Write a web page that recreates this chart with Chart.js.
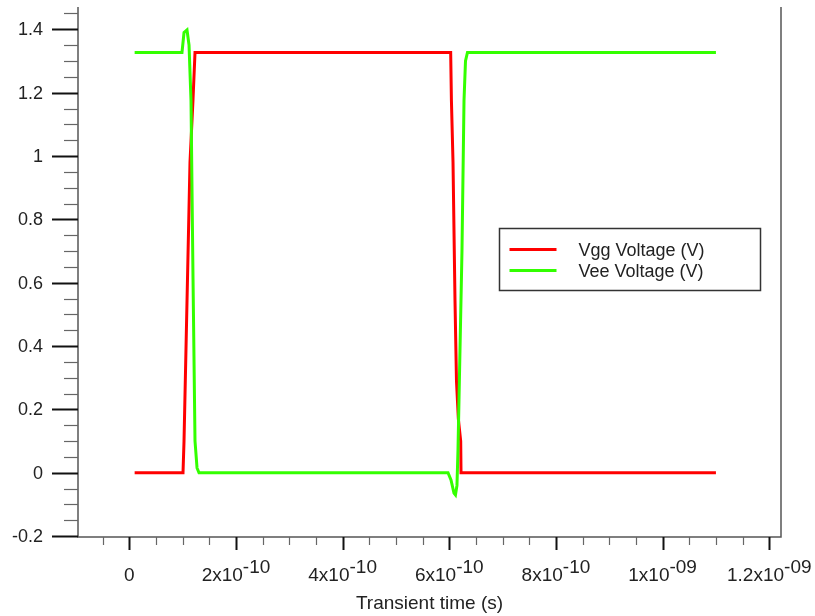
<!DOCTYPE html>
<html>
<head>
<meta charset="utf-8">
<title>Transient</title>
<script src="https://cdn.jsdelivr.net/npm/chart.js@4.4.1/dist/chart.umd.min.js"></script>
<style>
  html, body { margin: 0; padding: 0; background: #fff; }
  #wrap { width: 815px; height: 616px; }
</style>
</head>
<body>
<div id="wrap"><canvas id="myChart" width="815" height="616"></canvas></div>
<script>
// transient response, time in seconds
const vggTime = [0.1e-10, 1.007e-10, 1.026e-10, 1.138e-10, 1.195e-10, 1.232e-10,
  6.026e-10, 6.04e-10, 6.07e-10, 6.107e-10, 6.135e-10, 6.17e-10, 6.214e-10, 6.22e-10, 11.0e-10];
const vggVolt = [0, 0, 0.1, 0.98, 1.18, 1.327,
  1.327, 1.175, 0.98, 0.545, 0.29, 0.17, 0.1, 0, 0];

const veeTime = [0.1e-10, 0.988e-10, 1.026e-10, 1.082e-10, 1.12e-10, 1.157e-10, 1.195e-10, 1.232e-10, 1.27e-10, 1.307e-10,
  5.976e-10, 6.032e-10, 6.088e-10, 6.116e-10, 6.144e-10, 6.163e-10, 6.182e-10, 6.238e-10, 6.276e-10, 6.304e-10, 6.341e-10, 11.0e-10];
const veeVolt = [1.327, 1.327, 1.39, 1.398, 1.35, 1.175, 0.61, 0.1, 0.015, 0,
  0, -0.023, -0.064, -0.07, -0.04, 0.07, 0.23, 0.7, 1.175, 1.3, 1.327, 1.327];

const seriesNames = ['Vgg Voltage (V)', 'Vee Voltage (V)'];
const seriesColors = ['#ff0000', '#33ff00'];

// axis ticks
const yTickValues = [-0.2, 0, 0.2, 0.4, 0.6, 0.8, 1, 1.2, 1.4];
const yTickLabels = ['-0.2', '0', '0.2', '0.4', '0.6', '0.8', '1', '1.2', '1.4'];
const xTickValues = [0, 2e-10, 4e-10, 6e-10, 8e-10, 1e-9, 1.2e-9];
const xTickBase = ['0', '2x10', '4x10', '6x10', '8x10', '1x10', '1.2x10'];
const xTickExp = ['', '-10', '-10', '-10', '-10', '-09', '-09'];
const xTitle = 'Transient time (s)';

function pts(t, v) {
  return t.map((x, i) => ({x: x, y: v[i]}));
}

const font = '"Liberation Sans", Arial, sans-serif';

// axes, ticks and legend drawn on top of the plot
const framePlugin = {
  id: 'frame',
  afterDatasetsDraw(chart) {
    const ctx = chart.ctx;
    const area = chart.chartArea;
    const xs = chart.scales.x;
    const ys = chart.scales.y;
    ctx.save();

    // axis lines (no top border)
    ctx.strokeStyle = '#555';
    ctx.lineWidth = 1.5;
    ctx.beginPath();
    ctx.moveTo(area.left, area.top);
    ctx.lineTo(area.left, area.bottom);
    ctx.lineTo(area.right, area.bottom);
    ctx.lineTo(area.right, area.top);
    ctx.stroke();

    // y ticks every 0.05, major every 0.2
    for (let i = -4; i <= 29; i++) {
      const y = Math.round(ys.getPixelForValue(i * 0.05)) + 0.5;
      const major = i % 4 === 0;
      ctx.strokeStyle = major ? '#111' : '#666';
      ctx.lineWidth = major ? 2 : 1.2;
      ctx.beginPath();
      ctx.moveTo(area.left - (major ? 26 : 14), y);
      ctx.lineTo(area.left, y);
      ctx.stroke();
    }

    // x ticks every 0.5e-10, major every 2e-10
    for (let i = -1; i <= 24; i++) {
      const x = Math.round(xs.getPixelForValue(i * 0.5e-10)) + 0.5;
      const major = i % 4 === 0;
      ctx.strokeStyle = major ? '#111' : '#666';
      ctx.lineWidth = major ? 2 : 1.2;
      ctx.beginPath();
      ctx.moveTo(x, area.bottom);
      ctx.lineTo(x, area.bottom + (major ? 13 : 8));
      ctx.stroke();
    }

    ctx.fillStyle = '#222';
    ctx.font = '18px ' + font;

    // y labels
    ctx.textAlign = 'right';
    ctx.textBaseline = 'middle';
    yTickValues.forEach((v, i) => {
      ctx.fillText(yTickLabels[i], area.left - 35, ys.getPixelForValue(v) + 1);
    });

    // x labels with exponent
    ctx.font = '19px ' + font;
    ctx.textAlign = 'left';
    ctx.textBaseline = 'alphabetic';
    xTickValues.forEach((v, i) => {
      const wb = ctx.measureText(xTickBase[i]).width;
      const we = ctx.measureText(xTickExp[i]).width;
      const x0 = xs.getPixelForValue(v) - (wb + we) / 2;
      ctx.fillText(xTickBase[i], x0, area.bottom + 44);
      if (xTickExp[i]) ctx.fillText(xTickExp[i], x0 + wb, area.bottom + 36);
    });

    // axis title
    ctx.textAlign = 'center';
    ctx.font = '19px ' + font;
    ctx.fillText(xTitle, (area.left + area.right) / 2, area.bottom + 72);

    // legend box
    const bx = 499.5, by = 228.5, bw = 261, bh = 62;
    ctx.fillStyle = '#fff';
    ctx.fillRect(bx, by, bw, bh);
    ctx.strokeStyle = '#333';
    ctx.lineWidth = 1.5;
    ctx.strokeRect(bx, by, bw, bh);
    ctx.font = '18px ' + font;
    ctx.textAlign = 'left';
    ctx.textBaseline = 'middle';
    seriesNames.forEach((name, i) => {
      const ly = by + 21 + i * 21;
      ctx.strokeStyle = seriesColors[i];
      ctx.lineWidth = 3;
      ctx.beginPath();
      ctx.moveTo(bx + 10, ly);
      ctx.lineTo(bx + 57, ly);
      ctx.stroke();
      ctx.fillStyle = '#222';
      ctx.fillText(name, bx + 79, ly + 2);
    });

    ctx.restore();
  }
};

const config = {
  type: 'line',
  data: {
    datasets: [
      {
        label: seriesNames[0],
        data: pts(vggTime, vggVolt),
        borderColor: seriesColors[0],
        borderWidth: 3,
        order: 1
      },
      {
        label: seriesNames[1],
        data: pts(veeTime, veeVolt),
        borderColor: seriesColors[1],
        borderWidth: 3,
        order: 0
      }
    ]
  },
  options: {
    responsive: false,
    animation: false,
    layout: {
      padding: {left: 78, right: 34, top: 7, bottom: 79}
    },
    elements: {
      point: {radius: 0},
      line: {tension: 0, borderJoinStyle: 'miter'}
    },
    scales: {
      x: {type: 'linear', min: -0.962e-10, max: 12.22e-10, display: false},
      y: {type: 'linear', min: -0.203, max: 1.4705, display: false}
    },
    plugins: {
      legend: {display: false},
      tooltip: {enabled: false}
    }
  },
  plugins: [framePlugin]
};

const myChart = new Chart(document.getElementById('myChart'), config);
</script>
</body>
</html>
